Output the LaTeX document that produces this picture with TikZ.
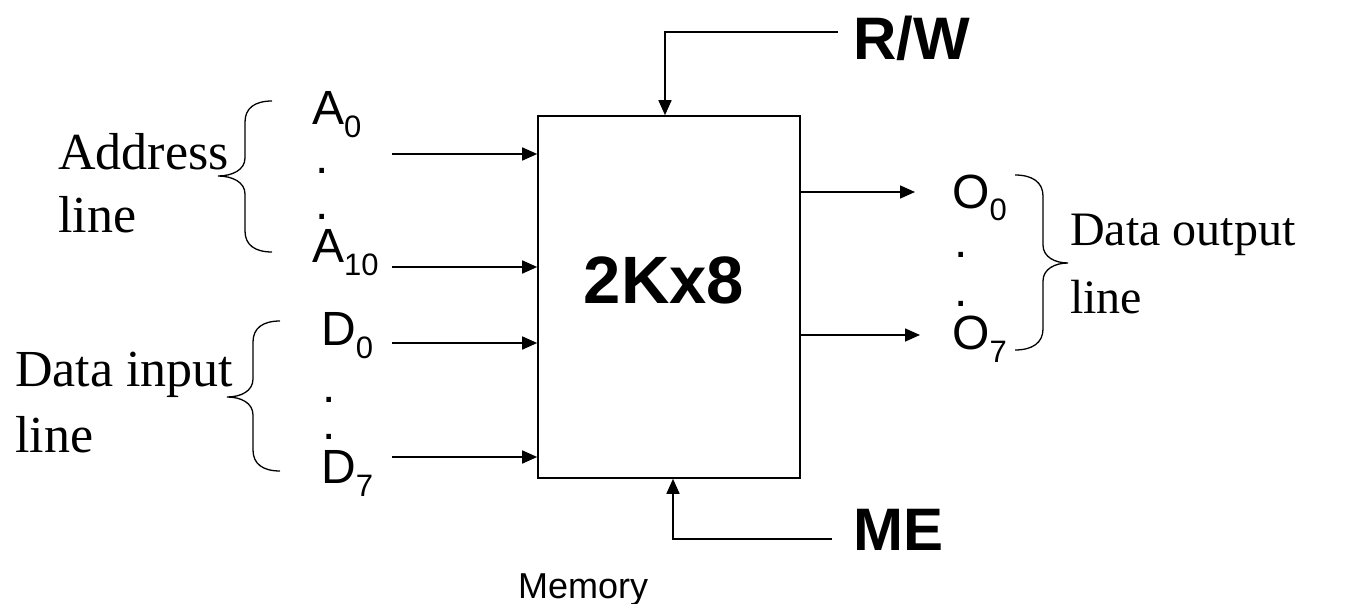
\documentclass[tikz,border=0pt]{standalone}
\usepackage{fontspec}
\setmainfont{Liberation Serif}
\newfontfamily\sansf{Liberation Sans}
\usetikzlibrary{arrows.meta}
\newcommand\sig[2]{#1\raisebox{-13pt}{\fontsize{31}{31}\selectfont #2}}
\begin{document}
\begin{tikzpicture}[x=1pt,y=-1pt,
  lbl/.style={anchor=base west,inner sep=0pt,font=\sansf\fontsize{48}{52}\selectfont},
  serif/.style={anchor=base west,inner sep=0pt,font=\fontsize{52}{56}\selectfont},
  serifs/.style={anchor=base west,inner sep=0pt,font=\fontsize{48}{52}\selectfont},
  big/.style={anchor=base west,inner sep=0pt,font=\sansf\bfseries\fontsize{60}{66}\selectfont},
  arr/.style={line width=1.6pt,-{Triangle[length=15pt,width=13pt]}},
  brace/.style={line width=1.3pt}]
\useasboundingbox (0,0) rectangle (1362,604);
% memory box
\node[draw,line width=1.6pt,minimum width=262pt,minimum height=362pt,inner sep=0pt] (mem) at (669,297) {};
\node[anchor=base,inner sep=0pt,font=\sansf\bfseries\fontsize{67}{72}\selectfont] (cap) at (664,303) {2Kx8};
\node[anchor=base west,inner sep=0pt,font=\sansf\fontsize{36}{40}\selectfont] (memlbl) at (518,598) {Memory};
% control signals
\node[big] (rw) at (853,60) {R/W};
\node[big] (me) at (853,550) {ME};
\coordinate (rwend) at (838,32);
\coordinate (meend) at (832,539);
\draw[arr] (rwend) -| ([xshift=-4pt]mem.north);
\draw[arr] (meend) -| ([xshift=4pt]mem.south);
% inputs
\node[lbl] (a0) at (312,125) {\sig{A}{0}};
\node[lbl] (ad1) at (315,174) {.};
\node[lbl] (ad2) at (315,219) {.};
\node[lbl] (a10) at (312,262) {\sig{A}{10}};
\node[lbl] (d0) at (321,345) {\sig{D}{0}};
\node[lbl] (dd1) at (322,402) {.};
\node[lbl] (dd2) at (322,439) {.};
\node[lbl] (d7) at (321,483) {\sig{D}{7}};
\coordinate (ia0) at (392,154);
\coordinate (ia10) at (392,267);
\coordinate (id0) at (392,343);
\coordinate (id7) at (392,457);
\foreach \c in {ia0,ia10,id0,id7}
  \draw[arr] (\c) -- (\c -| mem.west);
% outputs
\node[lbl] (o0) at (952,208) {\sig{O}{0}};
\node[lbl] (od1) at (954,257) {.};
\node[lbl] (od2) at (954,306) {.};
\node[lbl] (o7) at (952,349) {\sig{O}{7}};
\coordinate (oo0) at (915,192);
\coordinate (oo7) at (920,335);
\draw[arr] (mem.east |- oo0) -- (oo0);
\draw[arr] (mem.east |- oo7) -- (oo7);
% group labels
\node[serif] (addr1) at (58,170) {Address};
\node[serif] (addr2) at (58,233) {line};
\node[serif] (din1) at (15,386) {Data input};
\node[serif] (din2) at (15,452) {line};
\node[serifs] (dout1) at (1070,245) {Data output};
\node[serifs] (dout2) at (1070,313) {line};
% braces
\draw[brace] (272,101) .. controls (255,101) and (245,108) .. (245,122) -- (245,158) .. controls (245,170) and (232,176) .. (218,176) .. controls (232,176) and (245,182) .. (245,194) -- (245,231) .. controls (245,245) and (255,252) .. (272,252);
\draw[brace] (280,321) .. controls (263,321) and (253,328) .. (253,342) -- (253,379) .. controls (253,391) and (241,397) .. (227,397) .. controls (241,397) and (253,403) .. (253,415) -- (253,450) .. controls (253,464) and (263,471) .. (280,471);
\draw[brace] (1015,175) .. controls (1032,175) and (1043,182) .. (1043,196) -- (1043,245) .. controls (1043,257) and (1055,263) .. (1068,263) .. controls (1055,263) and (1043,269) .. (1043,281) -- (1043,329) .. controls (1043,343) and (1032,350) .. (1015,350);
\end{tikzpicture}
\end{document}
